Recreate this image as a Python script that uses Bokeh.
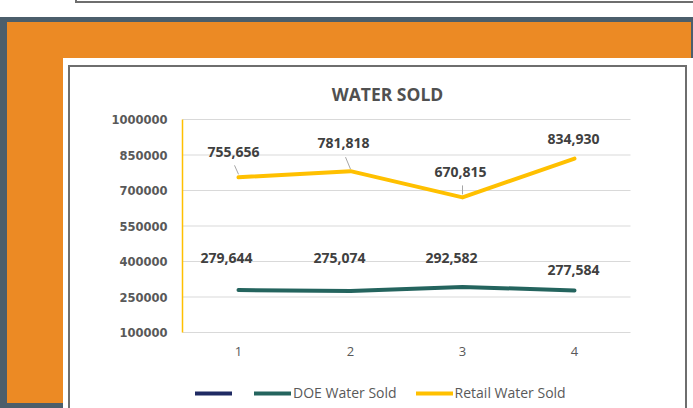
from bokeh.plotting import figure
from bokeh.models import (Legend, LegendItem, FixedTicker, NumeralTickFormatter,
                          ColumnDataSource, Range1d, Label)
from bokeh.core.properties import value
from bokeh.embed import file_html
from bokeh.resources import INLINE

# ---- data ----
periods = [1, 2, 3, 4]
unnamed_series = [None, None, None, None]      # empty series (legend entry only)
doe_sold = [279644, 275074, 292582, 277584]
retail_sold = [755656, 781818, 670815, 834930]
y_ticks = [100000, 250000, 400000, 550000, 700000, 850000, 1000000]
x_ticks = [1, 2, 3, 4]
title_text = "WATER SOLD"
series_names = [" ", "DOE Water Sold", "Retail Water Sold"]

# ---- style: label pixel offsets ----
retail_dx = [-5, -7, -2, -1]
retail_dy = [-25, -28, -25, -20]
doe_dx = [-12, -11, -11, -1]
doe_dy = [-32, -33, -29, -20]

# ---- layout (pixels) ----
W, H = 693, 408
FL, FT, FW, FH = 182, 119, 448, 213          # plot area inside the canvas
X0, X1 = 0.5, 4.5                            # visible category span
Y0, Y1 = 100000, 1000000                     # value axis span
PXX = FW / (X1 - X0)
PXY = FH / (Y1 - Y0)
XS = X0 - FL / PXX
XE = XS + W / PXX
YE = Y1 + FT / PXY
YS = YE - H / PXY

YELLOW = "#FFC000"
TEAL = "#24645E"
NAVY = "#1F2A63"
ORANGE = "#EC8A24"
DARK = "#4B5E6B"
BOXLINE = "#6E6E6E"
TXT = "#595959"

p = figure(width=W, height=H, output_backend="svg", toolbar_location=None,
           x_range=Range1d(XS, XE), y_range=Range1d(YS, YE),
           min_border=0, min_border_left=0, min_border_right=0,
           min_border_top=0, min_border_bottom=0)
p.title.visible = False
p.outline_line_color = None
p.background_fill_color = None
p.border_fill_color = None

# ---- decorative panels behind the transparent canvas ----
def layer(color, x, y, w, h):
    return f"linear-gradient({color},{color}) {x}px {y}px / {w}px {h}px no-repeat"

p.styles = {"background": ", ".join([
    layer(BOXLINE, 75, 1, 700, 2),
    layer(BOXLINE, 75, 0, 2, 3),
    layer(BOXLINE, 68, 65, 2, 400),
    layer(BOXLINE, 68, 65, 619, 2),
    layer(BOXLINE, 685, 65, 2, 400),
    layer("#FFFFFF", 63, 58, 700, 400),
    layer(ORANGE, 7, 22, 684, 381),
    layer(DARK, 0, 17, 700, 400),
    "#FFFFFF",
])}

# ---- axes (drawn at the plot-area edges) ----
p.xaxis.fixed_location = Y0
p.xaxis.bounds = (X0, X1)
p.xaxis.ticker = FixedTicker(ticks=x_ticks)
p.xaxis.axis_line_color = None
p.xaxis.major_tick_line_color = None
p.xaxis.minor_tick_line_color = None
p.xaxis.major_tick_out = 0
p.xaxis.major_tick_in = 0
p.xaxis.major_label_standoff = 14
p.xaxis.major_label_text_font = "Open Sans"
p.xaxis.major_label_text_font_size = "13px"
p.xaxis.major_label_text_color = TXT

p.yaxis.fixed_location = X0
p.yaxis.bounds = (Y0, Y1)
p.yaxis.ticker = FixedTicker(ticks=y_ticks)
p.yaxis.formatter = NumeralTickFormatter(format="0")
p.yaxis.axis_line_color = YELLOW
p.yaxis.axis_line_width = 1.5
p.yaxis.major_tick_line_color = None
p.yaxis.minor_tick_line_color = None
p.yaxis.major_tick_out = 0
p.yaxis.major_tick_in = 0
p.yaxis.major_label_standoff = 15
p.yaxis.major_label_text_font = "DejaVu Sans"
p.yaxis.major_label_text_font_style = "bold"
p.yaxis.major_label_text_font_size = "11.5px"
p.yaxis.major_label_text_color = TXT

p.xgrid.visible = False
p.ygrid.visible = False
# horizontal gridlines at the value ticks, across the plot area
p.segment(x0=X0, x1=X1, y0=y_ticks, y1=y_ticks, line_color="#D9D9D9", line_width=1)

# ---- series ----
src = ColumnDataSource(dict(
    x=periods, blank=[float("nan") if v is None else v for v in unnamed_series],
    doe=doe_sold, retail=retail_sold,
    doe_lbl=[f"{v:,}" for v in doe_sold],
    retail_lbl=[f"{v:,}" for v in retail_sold],
    rdx=retail_dx, rdy=retail_dy, ddx=doe_dx, ddy=doe_dy,
))

r_navy = p.line(x="x", y="blank", source=src, line_color=NAVY, line_width=4, line_cap="round")
r_doe = p.line(x="x", y="doe", source=src, line_color=TEAL, line_width=4,
               line_cap="round", line_join="round")
r_retail = p.line(x="x", y="retail", source=src, line_color=YELLOW, line_width=4,
                  line_cap="round", line_join="round")

# leader lines (first three retail labels), pixel offsets converted via the scale
lead_from = [(0, -3), (0, -2), (0, -3)]
lead_to = [(-4, -12), (-5, -14), (0, -12)]
p.segment(x0=[periods[i] + lead_from[i][0] / PXX for i in range(3)],
          y0=[retail_sold[i] - lead_from[i][1] / PXY for i in range(3)],
          x1=[periods[i] + lead_to[i][0] / PXX for i in range(3)],
          y1=[retail_sold[i] - lead_to[i][1] / PXY for i in range(3)],
          line_color="#A6A6A6", line_width=1)

lbl_kw = dict(text_align="center", text_baseline="middle",
              text_font=value("Open Sans"), text_font_style="bold",
              text_font_size="14px", text_color="#404040")
p.text(x="x", y="retail", text="retail_lbl", x_offset="rdx", y_offset="rdy", source=src, **lbl_kw)
p.text(x="x", y="doe", text="doe_lbl", x_offset="ddx", y_offset="ddy", source=src, **lbl_kw)

# ---- title ----
p.add_layout(Label(x=387, y=H - 93, x_units="screen", y_units="screen", text=title_text,
                   text_align="center", text_baseline="middle",
                   text_font="Open Sans", text_font_style="bold",
                   text_font_size="17.5px", text_color="#505050"))

# ---- legend ----
legend = Legend(items=[LegendItem(label=value(series_names[0]), renderers=[r_navy]),
                       LegendItem(label=value(series_names[1]), renderers=[r_doe]),
                       LegendItem(label=value(series_names[2]), renderers=[r_retail])],
                orientation="horizontal", location=(195, H - 402),
                padding=0, margin=0, spacing=19, glyph_width=37, glyph_height=16,
                label_height=16, label_width=1, label_standoff=2,
                label_text_font="Open Sans", label_text_font_size="14px",
                label_text_color=TXT, background_fill_alpha=0, border_line_color=None)
p.add_layout(legend, "center")

open("out.html", "w").write(file_html(p, INLINE))
